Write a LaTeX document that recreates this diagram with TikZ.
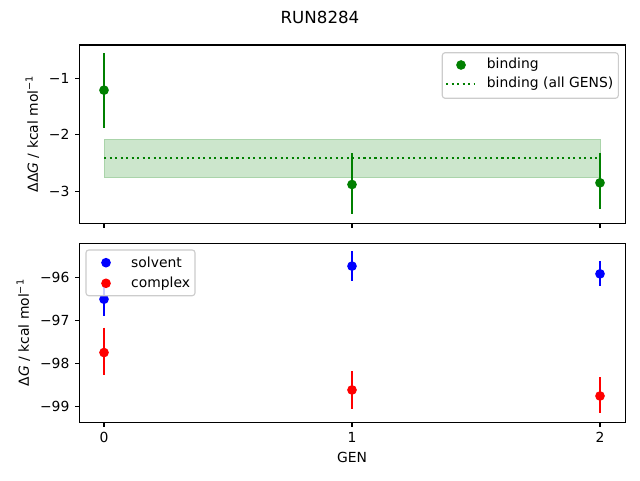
\documentclass[tikz,border=0pt]{standalone}
\usepackage{fontspec}
\setmainfont{DejaVu Sans}
\definecolor{mgreen}{RGB}{0,128,0}
\definecolor{mblue}{RGB}{0,0,255}
\definecolor{mred}{RGB}{255,0,0}
\definecolor{legedge}{RGB}{204,204,204}
\definecolor{bandfill}{RGB}{204,230,204}
\definecolor{bandedge}{RGB}{170,212,170}
\newcommand{\lbl}{\fontsize{13.89}{16}\selectfont}
\newcommand{\mrad}{4.85pt}
\begin{document}
\begin{tikzpicture}[x=1pt,y=1pt,
  axframe/.style={line width=1.11pt, draw=black},
  ticksty/.style={line width=1.11pt, draw=black},
  errbar/.style={line width=2.08pt},
  dotline/.style={line width=2.08pt, dash pattern=on 2.08pt off 3.44pt, draw=mgreen},
  legbox/.style={draw=legedge, line width=1.11pt, fill=white, fill opacity=0.8, rounded corners=2.8pt},
  ticklab/.style={font=\lbl, inner sep=0pt},
  leglab/.style={font=\lbl, inner sep=0pt, anchor=west}
]
\useasboundingbox (0,0) rectangle (640,480);
\fill[white] (0,0) rectangle (640,480);

% title
\node[font=\fontsize{16.67}{20}\selectfont, inner sep=0pt] (title) at (320,463) {RUN8284};

% ---------- top axes ----------
\begin{scope}[shift={(104pt,458.2pt)}, x=248pt, y=56.5pt]
  \fill[bandfill] (0,-2.08) rectangle (2,-2.75);
  \draw[bandedge, line width=1pt] (0,-2.08) rectangle (2,-2.75);
  \draw[dotline] (0,-2.41) -- (2,-2.41);
  \draw[errbar, mgreen] (0,-0.56) -- (0,-1.88);
  \draw[errbar, mgreen] (1,-2.33) -- (1,-3.41);
  \draw[errbar, mgreen] (2,-2.33) -- (2,-3.32);
  \fill[mgreen] (0,-1.21) circle[radius=\mrad];
  \fill[mgreen] (1,-2.88) circle[radius=\mrad];
  \fill[mgreen] (2,-2.85) circle[radius=\mrad];
\end{scope}
\draw[axframe] (79.5,256.7) rectangle (625.5,435);
\foreach \xx in {104,352,600} \draw[ticksty] (\xx,256.7) -- (\xx,251.84);
\foreach \yy/\t in {401.7/−1,345.2/−2,288.7/−3} {
  \draw[ticksty] (79.5,\yy) -- (74.64,\yy);
  \node[ticklab, anchor=east] at (69.6,\yy) {\t};
}
\node[font=\lbl, rotate=90, inner sep=0pt] (ylabtop) at (32.3,346) {ΔΔ\textit{G} / kcal mol\textsuperscript{−1}};

% top legend
\draw[legbox] (442.3,381.7) rectangle (618.3,427.3);
\fill[mgreen] (461,415) circle[radius=\mrad];
\node[leglab] (lbind) at (486.7,415) {binding};
\draw[dotline] (446,396) -- (475,396);
\node[leglab] (lball) at (486.7,396) {binding (all GENS)};

% ---------- bottom axes ----------
\begin{scope}[shift={(104pt,202.7pt)}, x=248pt, y=43pt]
  \draw[errbar, mblue] (0,-0.13) -- (0,-0.89);
  \draw[errbar, mblue] (1,0.61) -- (1,-0.08);
  \draw[errbar, mblue] (2,0.38) -- (2,-0.20);
  \draw[errbar, mred] (0,-1.17) -- (0,-2.27);
  \draw[errbar, mred] (1,-2.18) -- (1,-3.06);
  \draw[errbar, mred] (2,-2.33) -- (2,-3.16);
  \fill[mblue] (0,-0.51) circle[radius=\mrad];
  \fill[mblue] (1,0.26) circle[radius=\mrad];
  \fill[mblue] (2,0.08) circle[radius=\mrad];
  \fill[mred] (0,-1.75) circle[radius=\mrad];
  \fill[mred] (1,-2.62) circle[radius=\mrad];
  \fill[mred] (2,-2.76) circle[radius=\mrad];
\end{scope}
\draw[axframe] (79.5,57.7) rectangle (625.5,236.7);
\foreach \xx/\t in {104/0,352/1,600/2} {
  \draw[ticksty] (\xx,57.7) -- (\xx,52.84);
  \node[ticklab] at (\xx,43) {\t};
}
\foreach \yy/\t in {202.7/−96,159.7/−97,116.7/−98,73.7/−99} {
  \draw[ticksty] (79.5,\yy) -- (74.64,\yy);
  \node[ticklab, anchor=east] at (69.6,\yy) {\t};
}
\node[font=\lbl, inner sep=0pt] (xlab) at (352,23) {GEN};
\node[font=\lbl, rotate=90, inner sep=0pt] (ylabbot) at (23.3,147.3) {Δ\textit{G} / kcal mol\textsuperscript{−1}};

% bottom legend
\draw[legbox] (86,184.3) rectangle (195,230);
\fill[mblue] (106,217.3) circle[radius=\mrad];
\node[leglab] (lsolv) at (131,217.3) {solvent};
\fill[mred] (106,196.7) circle[radius=\mrad];
\node[leglab] (lcomp) at (131,196.7) {complex};
\end{tikzpicture}
\end{document}
